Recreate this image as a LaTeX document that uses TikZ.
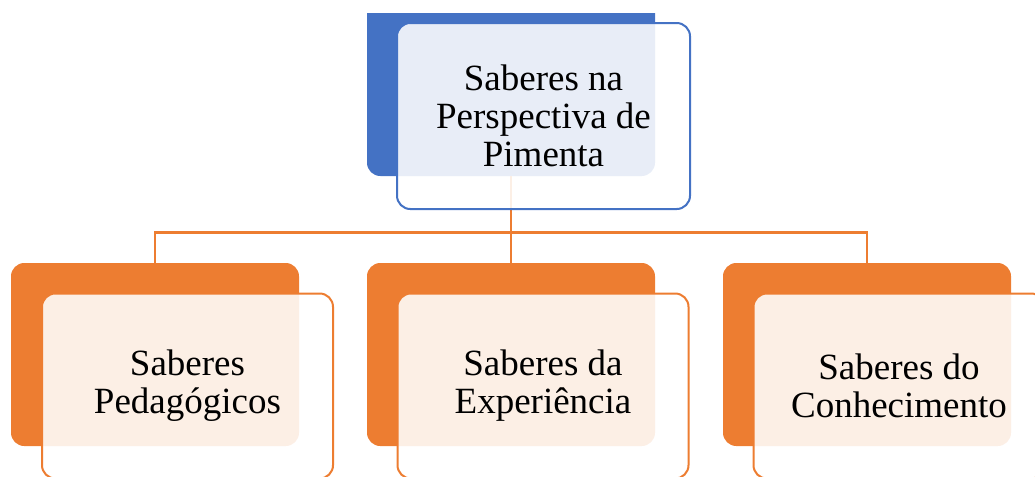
\documentclass[tikz,border=0pt]{standalone}
\usepackage{fontspec}
\setmainfont{Liberation Serif}
\definecolor{azul}{HTML}{4472C4}
\definecolor{laranja}{HTML}{ED7D31}

\begin{document}
\begin{tikzpicture}
  [x=0.75pt,y=-0.75pt,every node/.style={rounded corners=10pt,inner sep=0pt}]

  \tikzstyle{fundo} = [minimum width=216pt,minimum height=137.25pt]
  \tikzstyle{caixa} = [fill=white,fill opacity=0.88,text opacity=1,line width=1.5pt,
    minimum width=218.25pt,minimum height=138.75pt,align=center,
    font=\fontsize{27.75}{28.5}\selectfont]

  \useasboundingbox (0,0) rectangle (1035,476);
  \clip (0,13) rectangle (1035,476);

  \node[fundo,fill=azul,minimum height=139.5pt] (s0) at (511,83) {};
  \node[fundo,fill=laranja] (s1) at (155,354.5) {};
  \node[fundo,fill=laranja] (s2) at (511,354.5) {};
  \node[fundo,fill=laranja] (s3) at (867,354.5) {};

  \path[draw=laranja,line width=1.9pt]
        (s0.south) -- ++(0,56) coordinate (m) -| (s1.north)
        (m) -| (s3.north)
        (m) -- (s2.north);

  \node[caixa,draw=azul,minimum width=219.75pt,minimum height=139.5pt] (0) at (543.5,116)
        {Saberes na\\Perspectiva de\\Pimenta};
  \node[caixa,draw=laranja] (1) at (187.5,386) {Saberes\\Pedagógicos};
  \node[caixa,draw=laranja] (2) at (543,386) {Saberes da\\Experiência};
  \node[caixa,draw=laranja] (3) at (899,386) {Saberes do\\Conhecimento};
\end{tikzpicture}
\end{document}
